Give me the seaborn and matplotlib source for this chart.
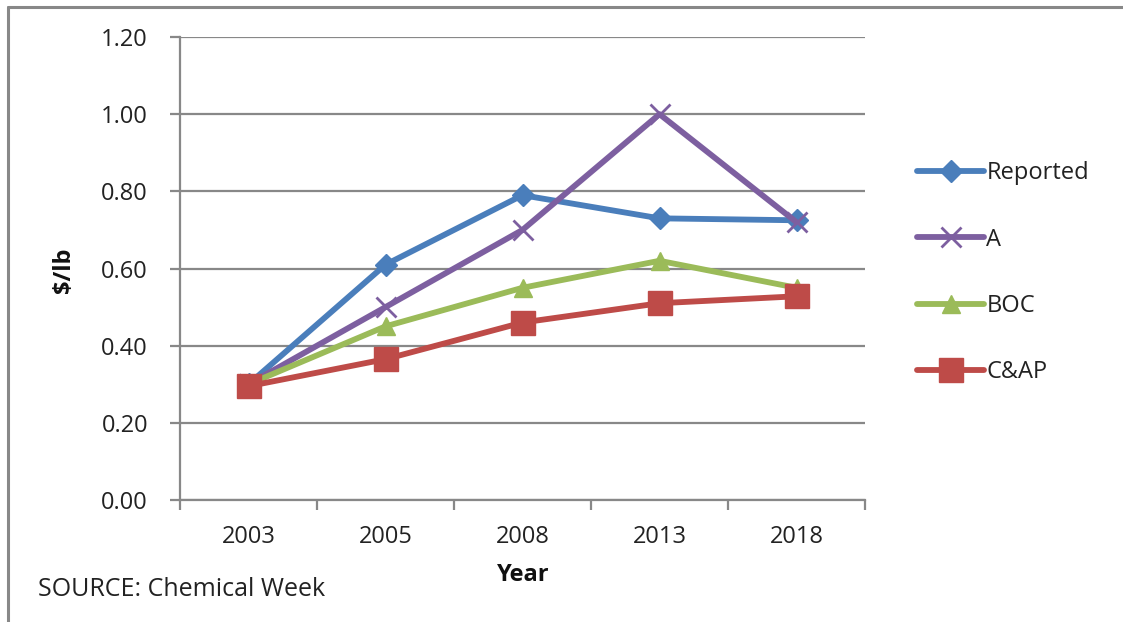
import matplotlib
matplotlib.use("Agg")
import matplotlib.pyplot as plt
from matplotlib.lines import Line2D
import seaborn as sns
import pandas as pd

years = ["2003", "2005", "2008", "2013", "2018"]
reported = [0.30, 0.61, 0.79, 0.73, 0.725]
a_vals = [0.30, 0.50, 0.70, 1.00, 0.72]
boc = [0.30, 0.45, 0.55, 0.62, 0.55]
cap = [0.295, 0.365, 0.46, 0.51, 0.528]
series_names = ["Reported", "A", "BOC", "C&AP"]

series_vals = [reported, a_vals, boc, cap]
colors = ["#4A7EBB", "#7D5FA0", "#9BBB59", "#BE4B48"]
markers = ["D", "x", "^", "s"]
msizes = [11, 14, 13, 17]
mew = [1, 2, 1, 1]

sns.set_theme(style="white")
plt.rcParams["font.family"] = ["Open Sans", "DejaVu Sans"]

FS = 17

fig = plt.figure(figsize=(11.23, 6.22), dpi=100)
ax = fig.add_axes([180 / 1123, 1 - 500 / 622, 685 / 1123, 463 / 622])

pos = list(range(len(years)))
for name, vals, c, m, ms, w in zip(series_names, series_vals, colors, markers, msizes, mew):
    df = pd.DataFrame({"pos": pos, "val": vals})
    sns.lineplot(data=df, x="pos", y="val", ax=ax, color=c, linewidth=4.2,
                 marker=m, markersize=ms, markeredgecolor=c, markerfacecolor=c,
                 markeredgewidth=w, label=name, sort=False)

ax.set_xlim(-0.5, 4.5)
ax.set_ylim(0, 1.2)
ax.set_yticks([0, 0.2, 0.4, 0.6, 0.8, 1.0, 1.2])
ax.set_yticklabels([f"{v:.2f}" for v in [0, 0.2, 0.4, 0.6, 0.8, 1.0, 1.2]])
ax.set_xticks([-0.5, 0.5, 1.5, 2.5, 3.5, 4.5])
ax.set_xticklabels([])
ax.set_xticks(pos, minor=True)
ax.set_xticklabels(years, minor=True)

grid_c = "#888888"
ax.yaxis.grid(True, color=grid_c, linewidth=1.6)
ax.xaxis.grid(False)
ax.set_axisbelow(True)
for s in ["top", "right"]:
    ax.spines[s].set_visible(False)
for s in ["left", "bottom"]:
    ax.spines[s].set_color(grid_c)
    ax.spines[s].set_linewidth(1.6)

ax.tick_params(axis="y", which="major", direction="out", length=7, width=1.6,
               color=grid_c, left=True, pad=16, labelsize=FS, labelcolor="#222222")
ax.tick_params(axis="x", which="major", direction="out", length=7, width=1.6,
               color=grid_c, bottom=True)
ax.tick_params(axis="x", which="minor", length=0, pad=18, labelsize=FS,
               labelcolor="#222222")

ax.set_xlabel("")
ax.set_ylabel("")
fig.text(523 / 1123, 1 - 575 / 622, "Year", ha="center", va="center",
         fontsize=FS, fontweight="bold", color="#111111")
fig.text(64 / 1123, 1 - 270 / 622, "$/lb", ha="center", va="center",
         rotation=90, fontsize=FS, fontweight="bold", color="#111111")
fig.text(38 / 1123, 1 - 590 / 622, "SOURCE: Chemical Week", ha="left",
         va="center", fontsize=18, color="#222222")

leg = ax.legend(loc="upper left", bbox_to_anchor=(908 / 1123, 1 - 152 / 622),
                bbox_transform=fig.transFigure, frameon=False, fontsize=FS,
                labelspacing=1.79, handlelength=2.8, handletextpad=0.12,
                borderaxespad=0, labelcolor="#222222")

# outer border (top and left)
fig.add_artist(Line2D([8 / 1123, 1.0], [1 - 6.5 / 622, 1 - 6.5 / 622],
                      transform=fig.transFigure, color="#888888", linewidth=2.2))
fig.add_artist(Line2D([8 / 1123, 8 / 1123], [0.0, 1 - 6.5 / 622],
                      transform=fig.transFigure, color="#888888", linewidth=2.2))

fig.savefig("out.png", dpi=100, facecolor="white")
